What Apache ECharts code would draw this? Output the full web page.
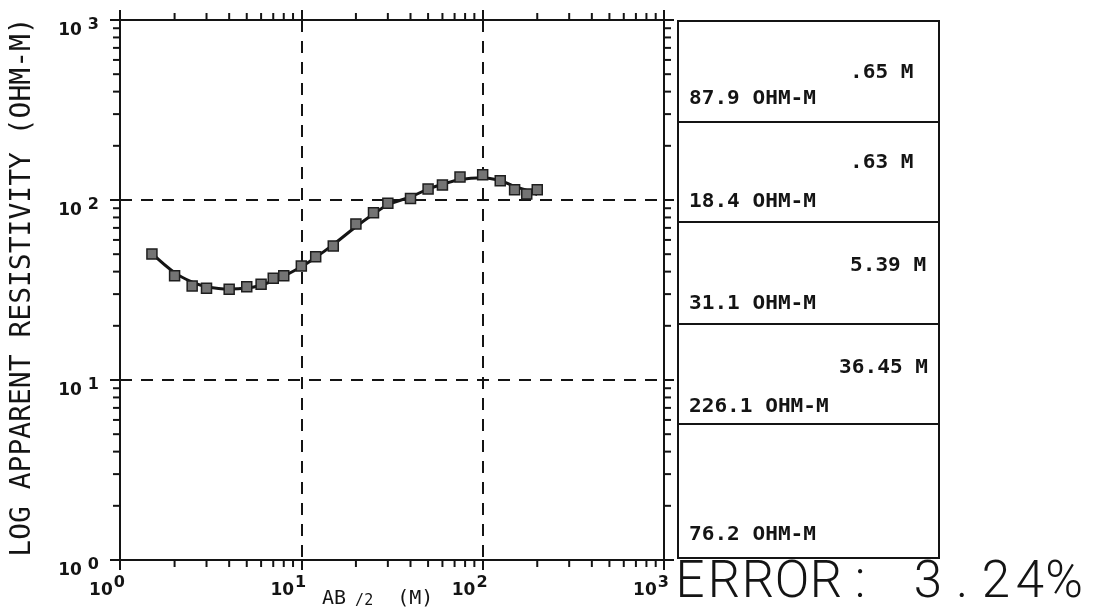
<!DOCTYPE html>
<html>
<head>
<meta charset="utf-8">
<script src="https://cdn.jsdelivr.net/npm/echarts@6/dist/echarts.min.js"></script>
<style>
  html, body { margin: 0; padding: 0; background: #fff; }
  #chart { width: 1096px; height: 610px; }
</style>
</head>
<body>
<div id="chart"></div>
<script>
// Half electrode spacing AB/2 (m) of each reading
const abHalf = [1.5, 2, 2.5, 3, 4, 5, 6, 7, 8, 10, 12, 15, 20, 25, 30, 40, 50, 60, 75, 100, 125, 150, 175, 200];
// Field apparent resistivity (ohm-m)
const rhoObserved = [50.1, 38.0, 33.3, 32.3, 31.9, 33.0, 34.0, 36.7, 38.0, 43.0, 48.4, 55.5, 73.6, 85.0, 95.9, 102, 115, 121, 134, 138, 128, 114, 108, 114];
// Apparent resistivity computed from the layered model (ohm-m)
const rhoModel = [50.5, 39.5, 35.0, 33.0, 32.0, 32.4, 33.6, 35.6, 37.8, 42.6, 48.0, 56.5, 71.0, 83.5, 94.0, 104, 115, 122, 130, 133, 128, 119, 113, 107];
// Layered model: resistivity per layer (ohm-m) and layer thickness (m)
const layerResistivity = [87.9, 18.4, 31.1, 226.1, 76.2];
const layerThickness = [0.65, 0.63, 5.39, 36.45];
const fitErrorPct = 3.24;
// Decade ticks and their exponent labels
const decadeTicks = [1, 10, 100, 1000];
const decadeExponents = ['0', '1', '2', '3'];

const INK = '#141414';
const expOf = v => decadeExponents[decadeTicks.indexOf(decadeTicks.reduce((a, b) =>
  Math.abs(Math.log10(b) - Math.log10(v)) < Math.abs(Math.log10(a) - Math.log10(v)) ? b : a))];

// minor ticks (2..9 in each decade) on all four frame sides
const minorTicks = [];
for (let k = 0; k < decadeTicks.length - 1; k++) {
  for (let m = 2; m <= 9; m++) {
    const v = m * decadeTicks[k];
    minorTicks.push([v, 1, 0]);   // x ticks
    minorTicks.push([1, v, 1]);   // y ticks
  }
}

const chart = echarts.init(document.getElementById('chart'), null, { renderer: 'canvas' });

const labelFont = { fontFamily: 'DejaVu Sans', fontWeight: 'bold', color: INK };
const logAxisBase = {
  type: 'log', logBase: 10, min: 1, max: 1000, splitNumber: 3,
  axisLine: { show: true, lineStyle: { color: INK, width: 2 } },
  axisTick: { show: true, inside: false, length: 10, lineStyle: { color: INK, width: 2 } },
  minorTick: { show: false }
};
const dashed = { show: true, lineStyle: { color: INK, width: 2, type: [12, 9] } };

const option = {
  backgroundColor: '#fff',
  animation: false,
  grid: { left: 120, right: 432, top: 20, bottom: 50, containLabel: false },
  xAxis: [
    Object.assign({}, logAxisBase, {
      position: 'bottom',
      splitLine: dashed,
      axisLabel: {
        margin: 15,
        formatter: v => '{b|10}{e|' + expOf(v) + '}{p| }',
        rich: {
          b: Object.assign({ fontSize: 17, lineHeight: 17, verticalAlign: 'bottom' }, labelFont),
          e: Object.assign({ fontSize: 16, lineHeight: 17, verticalAlign: 'top', padding: [0, 0, 0, 1] }, labelFont),
          p: { width: 26, fontSize: 10, lineHeight: 24, verticalAlign: 'middle' }
        }
      }
    }),
    Object.assign({}, logAxisBase, { position: 'top', splitLine: { show: false }, axisLabel: { show: false } })
  ],
  yAxis: [
    Object.assign({}, logAxisBase, {
      position: 'left',
      splitLine: dashed,
      axisLabel: {
        margin: 21,
        padding: [16, 0, 0, 0],
        formatter: v => '{b|10}{e|' + expOf(v) + '}{h| }',
        rich: {
          b: Object.assign({ fontSize: 17, lineHeight: 17, verticalAlign: 'bottom' }, labelFont),
          e: Object.assign({ fontSize: 16, lineHeight: 17, verticalAlign: 'top', padding: [0, 0, 0, 6] }, labelFont),
          h: { width: 0, fontSize: 10, lineHeight: 23, verticalAlign: 'middle' }
        }
      }
    }),
    Object.assign({}, logAxisBase, { position: 'right', splitLine: { show: false }, axisLabel: { show: false } })
  ],
  series: [
    {
      name: 'minor ticks',
      type: 'custom',
      silent: true,
      clip: false,
      encode: { x: 0, y: 1 },
      data: minorTicks,
      renderItem: (params, api) => {
        const style = { stroke: INK, lineWidth: 2 };
        if (api.value(2) === 0) {
          const v = api.value(0);
          const b = api.coord([v, 1]), t = api.coord([v, 1000]);
          return { type: 'group', children: [
            { type: 'line', shape: { x1: b[0], y1: b[1], x2: b[0], y2: b[1] + 7 }, style },
            { type: 'line', shape: { x1: t[0], y1: t[1], x2: t[0], y2: t[1] - 7 }, style }
          ] };
        }
        const v = api.value(1);
        const l = api.coord([1, v]), r = api.coord([1000, v]);
        return { type: 'group', children: [
          { type: 'line', shape: { x1: l[0], y1: l[1], x2: l[0] - 7, y2: l[1] }, style },
          { type: 'line', shape: { x1: r[0], y1: r[1], x2: r[0] + 7, y2: r[1] }, style }
        ] };
      }
    },
    {
      name: 'model',
      type: 'line',
      smooth: 0.4,
      symbol: 'none',
      lineStyle: { color: INK, width: 3 },
      data: abHalf.map((x, i) => [x, rhoModel[i]]),
      z: 3
    },
    {
      name: 'observed',
      type: 'scatter',
      symbol: 'rect',
      symbolSize: 10,
      itemStyle: { color: '#747474', borderColor: '#1e1e1e', borderWidth: 1.5, opacity: 1 },
      data: abHalf.map((x, i) => [x, rhoObserved[i]]),
      z: 4
    }
  ]
};

// ---- layer table to the right of the plot ----
const panel = { left: 678, right: 939, bottom: 558, rowTops: [21, 122, 222, 324, 424] };
const thickDy = [52, 41, 44, 44];
const rhoDy = [78, 80, 82, 83, 111];
const tableFont = 'bold 19px "DejaVu Sans Mono"';
const charW = 12.7;
const stretch = 1.11;
const graphics = [];

graphics.push({
  type: 'rect', silent: true,
  shape: { x: panel.left, y: panel.rowTops[0], width: panel.right - panel.left, height: panel.bottom - panel.rowTops[0] },
  style: { fill: 'none', stroke: INK, lineWidth: 2 }
});
layerResistivity.forEach((rho, i) => {
  const top = panel.rowTops[i];
  if (i > 0) {
    graphics.push({ type: 'line', silent: true,
      shape: { x1: panel.left, y1: top, x2: panel.right, y2: top },
      style: { stroke: INK, lineWidth: 2 } });
  }
  graphics.push({ type: 'text', silent: true, x: panel.left + 11, y: top + rhoDy[i], scaleX: stretch,
    style: { text: rho.toFixed(1) + ' OHM-M', font: tableFont, fill: INK, align: 'left', verticalAlign: 'middle' } });
  if (i < layerThickness.length) {
    const t = layerThickness[i];
    const txt = (t < 1 ? t.toFixed(2).replace(/^0/, '') : t.toFixed(2)) + ' M';
    const w = txt.length * charW;
    let x = 850;
    if (x + w > 932) x = 928 - w;
    graphics.push({ type: 'text', silent: true, x: x, y: top + thickDy[i], scaleX: stretch,
      style: { text: txt, font: tableFont, fill: INK, align: 'left', verticalAlign: 'middle' } });
  }
});

// fit error line under the table, one character per plotter cell
const errText = 'ERROR: ' + fitErrorPct.toFixed(2) + '%';
errText.split('').forEach((ch, i) => {
  if (ch === ' ') return;
  graphics.push({ type: 'text', silent: true, x: 675 + 34 * i + 15, y: 584,
    style: { text: ch, font: '300 51px Roboto', fill: INK, align: 'center', verticalAlign: 'middle' } });
});

// axis titles
graphics.push({ type: 'text', silent: true, x: 23, y: 287, rotation: Math.PI / 2,
  style: { text: 'LOG APPARENT RESISTIVITY (OHM-M)', font: '28px "DejaVu Sans Mono"', fill: INK,
    align: 'center', verticalAlign: 'middle' } });
graphics.push({ type: 'text', silent: true, x: 322, y: 598,
  style: {
    text: '{a|AB}{s| /2}{a|  (M)}',
    align: 'left', verticalAlign: 'middle',
    rich: {
      a: { fontFamily: 'DejaVu Sans Mono', fontSize: 20, fill: INK, lineHeight: 22, verticalAlign: 'bottom' },
      s: { fontFamily: 'DejaVu Sans Mono', fontSize: 15, fill: INK, lineHeight: 17, verticalAlign: 'bottom' }
    }
  } });

option.graphic = graphics;
chart.setOption(option);
</script>
</body>
</html>
